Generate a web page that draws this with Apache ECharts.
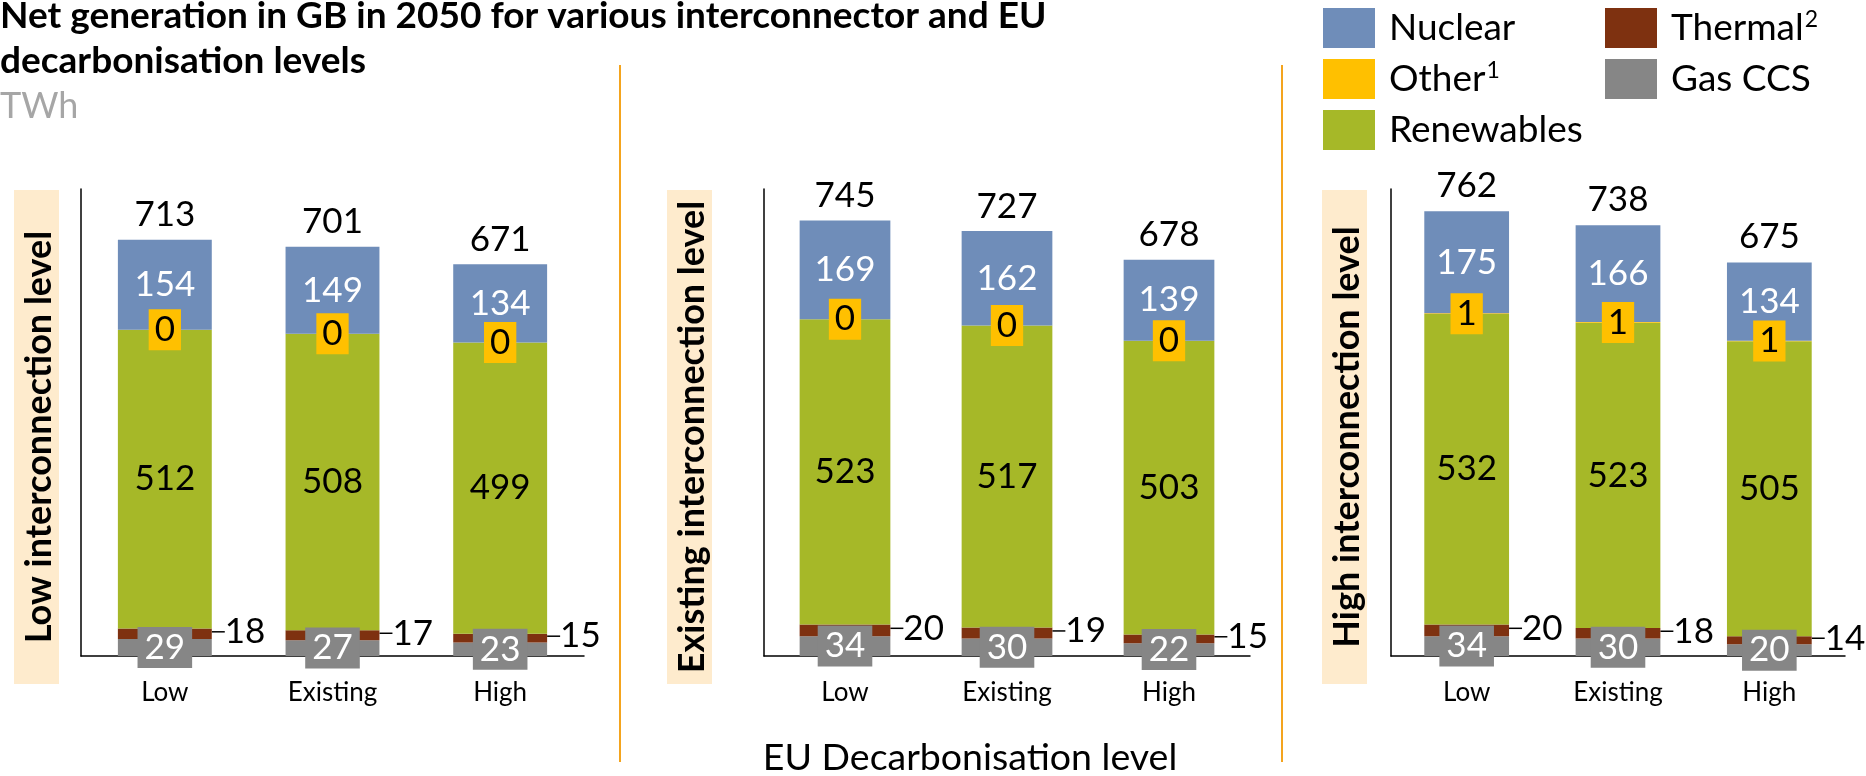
<!DOCTYPE html>
<html>
<head>
<meta charset="utf-8">
<script src="https://cdn.jsdelivr.net/npm/echarts@6/dist/echarts.min.js"></script>
<style>
  html, body { margin: 0; padding: 0; background: #fff; }
  #chart { width: 1866px; height: 776px; }
</style>
</head>
<body>
<div id="chart"></div>
<script>
// Net generation in GB in 2050 (TWh), one panel per interconnection level,
// each panel split by EU decarbonisation level.
const categories = ['Low', 'Existing', 'High'];
const panelTitles = ['Low interconnection level', 'Existing interconnection level', 'High interconnection level'];

// [panel][category]
const gasCCS     = [[29, 27, 23], [34, 30, 22], [34, 30, 20]];
const thermal    = [[18, 17, 15], [20, 19, 15], [20, 18, 14]];
const renewables = [[512, 508, 499], [523, 517, 503], [532, 523, 505]];
const other      = [[0, 0, 0], [0, 0, 0], [1, 1, 1]];
const nuclear    = [[154, 149, 134], [169, 162, 139], [175, 166, 134]];
const totals     = [[713, 701, 671], [745, 727, 678], [762, 738, 675]];

const FONT = 'Lato';
const COLORS = {
  gas: '#868686', thermal: '#7E3110', renewables: '#A6B828',
  other: '#FFC000', nuclear: '#6F8DB9'
};

// Layout of the three plotting areas
const GRID_TOP = 189, GRID_HEIGHT = 467;
const panels = [
  { left: 81,   width: 503, boxX: 14,   sep: null },
  { left: 764,  width: 486, boxX: 667,  sep: 620 },
  { left: 1391, width: 454, boxX: 1322, sep: 1282 }
];
const BOX_W = 45, BOX_TOP = 190, BOX_H = 494;

const chart = echarts.init(document.getElementById('chart'), null, { renderer: 'canvas' });

const grid = [], xAxis = [], yAxis = [], series = [], graphic = [];
const labelBase = { fontFamily: FONT, fontSize: 35 };

panels.forEach((p, i) => {
  grid.push({ left: p.left, top: GRID_TOP, width: p.width, height: GRID_HEIGHT });
  xAxis.push({
    type: 'category', gridIndex: i, data: categories,
    axisLine: { lineStyle: { color: '#000', width: 1.5 } },
    axisTick: { show: false },
    axisLabel: { fontFamily: FONT, fontSize: 26, color: '#000', margin: 24 }
  });
  yAxis.push({
    type: 'value', gridIndex: i, min: 0, max: 800,
    axisLine: { show: true, lineStyle: { color: '#000', width: 1.5 } },
    axisTick: { show: false }, axisLabel: { show: false }, splitLine: { show: false }
  });

  const common = { type: 'bar', xAxisIndex: i, yAxisIndex: i, stack: 'panel' + i, barWidth: '56%', barGap: '-100%' };

  series.push(Object.assign({}, common, {
    name: 'Gas CCS', data: gasCCS[i], itemStyle: { color: COLORS.gas },
    label: Object.assign({ show: true, position: 'inside', color: '#fff',
      backgroundColor: COLORS.gas, padding: [0, 7], lineHeight: 41 }, labelBase)
  }));
  series.push(Object.assign({}, common, {
    name: 'Thermal', data: thermal[i], itemStyle: { color: COLORS.thermal },
    label: Object.assign({ show: true, position: 'right', distance: 0, color: '#000' }, labelBase),
    labelLayout: { dx: 13, dy: -2 },
    labelLine: { show: true, lineStyle: { color: '#000', width: 1.5 } }
  }));
  series.push(Object.assign({}, common, {
    name: 'Renewables', data: renewables[i], itemStyle: { color: COLORS.renewables },
    label: Object.assign({ show: true, position: 'inside', color: '#000' }, labelBase)
  }));
  series.push(Object.assign({}, common, {
    name: 'Other', data: other[i], itemStyle: { color: COLORS.other },
    label: Object.assign({ show: true, position: 'inside', color: '#000',
      backgroundColor: COLORS.other, padding: [0, 6], lineHeight: 41 }, labelBase)
  }));
  series.push(Object.assign({}, common, {
    name: 'Nuclear', data: nuclear[i], itemStyle: { color: COLORS.nuclear },
    label: Object.assign({ show: true, position: 'inside', color: '#fff' }, labelBase)
  }));
  // Totals: transparent bar of the total height carrying the label above the stack
  series.push({
    type: 'bar', name: 'Total', xAxisIndex: i, yAxisIndex: i, barWidth: '56%', barGap: '-100%',
    data: totals[i], silent: true, itemStyle: { color: 'rgba(0,0,0,0)' },
    label: Object.assign({ show: true, position: 'top', distance: 5, color: '#000', lineHeight: 40 }, labelBase)
  });

  // Panel heading: shaded box with vertical bold text
  graphic.push({
    type: 'rect', shape: { x: p.boxX, y: BOX_TOP, width: BOX_W, height: BOX_H },
    style: { fill: '#FEEBCD' }, z: 0
  });
  graphic.push({
    type: 'text', x: p.boxX + BOX_W / 2 + 3, y: BOX_TOP + BOX_H / 2, rotation: Math.PI / 2,
    style: { text: panelTitles[i], fill: '#000', font: 'bold 36px ' + FONT, align: 'center', verticalAlign: 'middle' },
    z: 1
  });
  if (p.sep !== null) {
    graphic.push({
      type: 'line', shape: { x1: p.sep, y1: 65, x2: p.sep, y2: 762 },
      style: { stroke: '#F4A41E', lineWidth: 2 }
    });
  }
});

graphic.push({
  type: 'text', x: 970, y: 758,
  style: { text: 'EU Decarbonisation level', fill: '#000', font: '37.5px ' + FONT, align: 'center', verticalAlign: 'middle' }
});

const legendNames = { Other: 'Other{sup|1}', Thermal: 'Thermal{sup|2}' };
const legendBase = {
  orient: 'vertical', top: 8, padding: 0, icon: 'rect',
  itemWidth: 52, itemHeight: 40, itemGap: 11, selectedMode: false,
  formatter: n => legendNames[n] || n,
  textStyle: {
    fontFamily: FONT, fontSize: 37, color: '#000', lineHeight: 40, padding: [0, 0, 0, 9],
    rich: { sup: { fontFamily: FONT, fontSize: 23, color: '#000', lineHeight: 40, verticalAlign: 'top', padding: [0, 0, 10, 1] } }
  }
};

chart.setOption({
  animation: false,
  textStyle: { fontFamily: FONT },
  title: [
    {
      text: 'Net generation in GB in 2050 for various interconnector and EU\ndecarbonisation levels',
      left: 0, top: -6, padding: 0,
      textStyle: { fontFamily: FONT, fontSize: 37, fontWeight: 'bold', color: '#000', lineHeight: 45 }
    },
    {
      text: 'TWh', left: 0, top: 86, padding: 0,
      textStyle: { fontFamily: FONT, fontSize: 36, fontWeight: 'normal', color: '#A6A6A6', lineHeight: 40 }
    }
  ],
  legend: [
    Object.assign({ left: 1323, data: ['Nuclear', 'Other', 'Renewables'] }, legendBase),
    Object.assign({ left: 1605, data: ['Thermal', 'Gas CCS'] }, legendBase)
  ],
  grid, xAxis, yAxis, series, graphic
});
</script>
</body>
</html>
